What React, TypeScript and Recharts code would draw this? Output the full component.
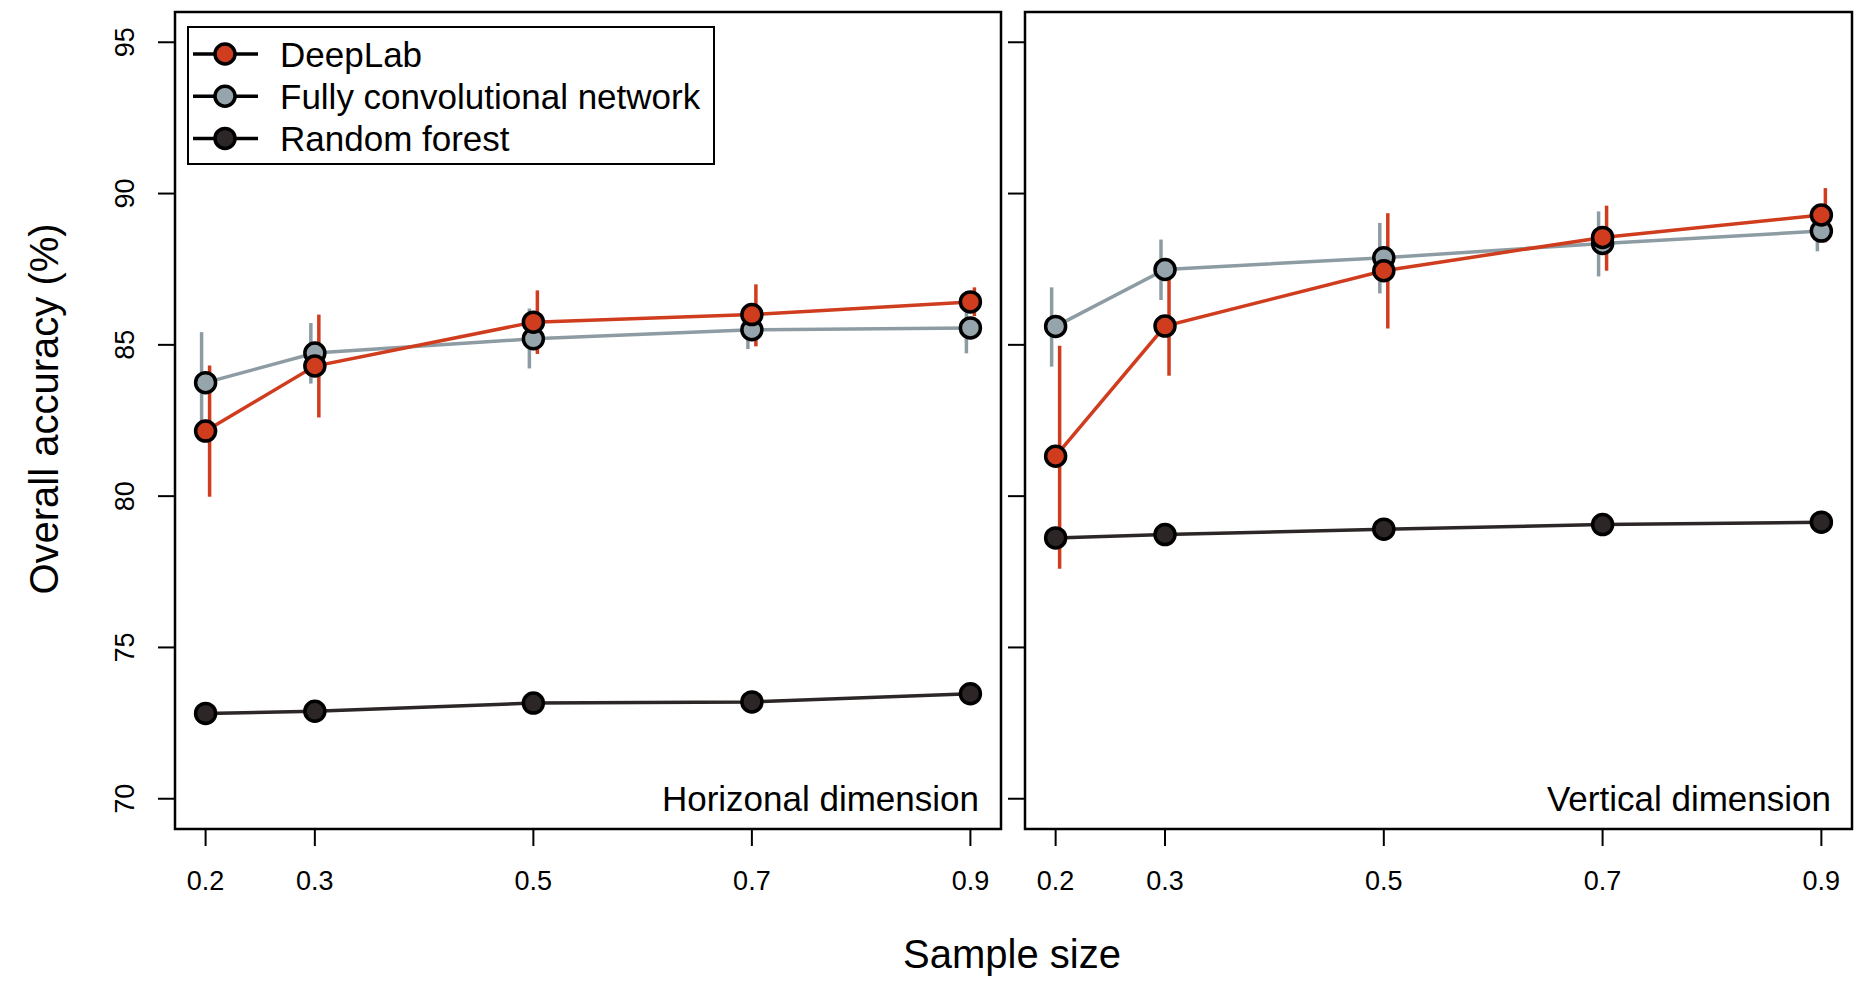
import React from "react";
import {
  LineChart,
  Line,
  XAxis,
  YAxis,
  ErrorBar,
  Legend,
  ReferenceArea,
} from "recharts";

const FONT = "'Liberation Sans', Arial, sans-serif";

// sample sizes on the x axis
const sampleSizes = [0.2, 0.3, 0.5, 0.7, 0.9];
const xTicks = [0.2, 0.3, 0.5, 0.7, 0.9];
const yTicks = [70, 75, 80, 85, 90, 95];

// horizontal dimension
const deeplabH = [82.15, 84.3, 85.75, 86.0, 86.42];
const deeplabHLow = [79.98, 82.6, 84.7, 84.95, 85.95];
const deeplabHHigh = [84.32, 86.0, 86.8, 87.0, 86.9];
const fcnH = [83.75, 84.73, 85.2, 85.5, 85.56];
const fcnHLow = [82.1, 83.72, 84.22, 84.86, 84.72];
const fcnHHigh = [85.42, 85.72, 86.2, 86.14, 86.4];
const rfH = [72.82, 72.89, 73.16, 73.2, 73.47];

// vertical dimension
const deeplabV = [81.32, 85.62, 87.45, 88.55, 89.29];
const deeplabVLow = [77.6, 83.98, 85.54, 87.45, 88.39];
const deeplabVHigh = [84.97, 87.25, 89.35, 89.6, 90.18];
const fcnV = [85.61, 87.49, 87.88, 88.35, 88.76];
const fcnVLow = [84.28, 86.48, 86.7, 87.26, 88.09];
const fcnVHigh = [86.9, 88.48, 89.03, 89.41, 89.42];
const rfV = [78.62, 78.73, 78.91, 79.06, 79.14];

const seriesNames = {
  deeplab: "DeepLab",
  fcn: "Fully convolutional network",
  rf: "Random forest",
};

const RED = "#d03c1e";
const GREY = "#96a5ac";
const GREY_LINE = "#8d9ca3";
const DARK = "#2d2626";

const dotFill: Record<string, string> = { deeplab: RED, fcn: GREY, rf: DARK };
const legendOrder = ["deeplab", "fcn", "rf"];

const X_DOMAIN: [number, number] = [0.172, 0.928];
const Y_DOMAIN: [number, number] = [69, 96];

function buildRows(
  dl: number[], dlLow: number[], dlHigh: number[],
  fcn: number[], fcnLow: number[], fcnHigh: number[],
  rf: number[]
) {
  return sampleSizes.map((x, i) => ({
    x,
    deeplab: dl[i],
    deeplabErr: [dl[i] - dlLow[i], dlHigh[i] - dl[i]],
    fcn: fcn[i],
    fcnErr: [fcn[i] - fcnLow[i], fcnHigh[i] - fcn[i]],
    rf: rf[i],
  }));
}

const rowsH = buildRows(deeplabH, deeplabHLow, deeplabHHigh, fcnH, fcnHLow, fcnHHigh, rfH);
const rowsV = buildRows(deeplabV, deeplabVLow, deeplabVHigh, fcnV, fcnVLow, fcnVHigh, rfV);

const YTick = (props: any) => {
  const { x, y, payload } = props;
  return (
    <text
      x={0}
      y={0}
      transform={`translate(${x},${y}) rotate(-90)`}
      textAnchor="middle"
      fontSize={27}
      fill="#000"
      fontFamily={FONT}
    >
      {payload.value}
    </text>
  );
};

const NoTick = () => <g />;

const LegendBox = (props: any) => {
  const payload = props.payload || [];
  const items = legendOrder
    .map((k) => payload.find((p: any) => p.dataKey === k))
    .filter(Boolean);
  return (
    <svg width={528} height={140} style={{ display: "block" }}>
      <rect x={1} y={1} width={526} height={137} fill="#fff" stroke="#000" strokeWidth={2} />
      {items.map((it: any, i: number) => {
        const cy = 28 + i * 42.2;
        return (
          <g key={it.dataKey}>
            <line x1={6} x2={71} y1={cy} y2={cy} stroke="#000" strokeWidth={3.5} />
            <circle cx={38} cy={cy} r={10} fill={dotFill[it.dataKey]} stroke="#000" strokeWidth={3.5} />
            <text x={93} y={cy} dominantBaseline="central" fontSize={35} fill="#000" fontFamily={FONT}>
              {it.value}
            </text>
          </g>
        );
      })}
    </svg>
  );
};

function series() {
  return [
    <Line
      key="rf"
      type="linear"
      dataKey="rf"
      name={seriesNames.rf}
      stroke={DARK}
      strokeWidth={3.5}
      dot={{ r: 10, fill: DARK, stroke: "#000", strokeWidth: 3.5 }}
      activeDot={false}
      isAnimationActive={false}
    />,
    <Line
      key="fcn"
      type="linear"
      dataKey="fcn"
      name={seriesNames.fcn}
      stroke={GREY_LINE}
      strokeWidth={3.5}
      dot={{ r: 10, fill: GREY, stroke: "#000", strokeWidth: 3.5 }}
      activeDot={false}
      isAnimationActive={false}
    >
      <ErrorBar
        dataKey="fcnErr"
        direction="y"
        width={0}
        stroke={GREY_LINE}
        strokeWidth={3.5}
        transform="translate(-4,0)"
        isAnimationActive={false}
      />
    </Line>,
    <Line
      key="deeplab"
      type="linear"
      dataKey="deeplab"
      name={seriesNames.deeplab}
      stroke={RED}
      strokeWidth={3.5}
      dot={{ r: 10, fill: RED, stroke: "#000", strokeWidth: 3.5 }}
      activeDot={false}
      isAnimationActive={false}
    >
      <ErrorBar
        dataKey="deeplabErr"
        direction="y"
        width={0}
        stroke={RED}
        strokeWidth={3.5}
        transform="translate(4,0)"
        isAnimationActive={false}
      />
    </Line>,
  ];
}

function xAxis() {
  return (
    <XAxis
      type="number"
      dataKey="x"
      domain={X_DOMAIN}
      ticks={xTicks}
      allowDataOverflow
      height={60}
      tickSize={17}
      tickMargin={25}
      axisLine={false}
      tickLine={{ stroke: "#000", strokeWidth: 2 }}
      tick={{ fontSize: 27, fill: "#000", fontFamily: FONT }}
    />
  );
}

function frame() {
  return (
    <ReferenceArea
      x1={X_DOMAIN[0]}
      x2={X_DOMAIN[1]}
      y1={Y_DOMAIN[0]}
      y2={Y_DOMAIN[1]}
      fill="none"
      fillOpacity={0}
      stroke="#000"
      strokeWidth={2.5}
      ifOverflow="visible"
    />
  );
}

export default function App() {
  return (
    <div
      style={{
        position: "absolute",
        left: 0,
        top: 0,
        width: 1855,
        height: 995,
        background: "#fff",
        fontFamily: FONT,
      }}
    >
      <div style={{ position: "absolute", left: 0, top: 0 }}>
        <LineChart width={1003} height={995} data={rowsH} margin={{ top: 12, right: 2, bottom: 106, left: 115 }}>
          {frame()}
          {xAxis()}
          <YAxis
            type="number"
            domain={Y_DOMAIN}
            ticks={yTicks}
            width={60}
            tickSize={17}
            tickMargin={24}
            axisLine={false}
            tickLine={{ stroke: "#000", strokeWidth: 2 }}
            tick={<YTick />}
          />
          {series()}
          <Legend
            layout="vertical"
            align="center"
            verticalAlign="middle"
            wrapperStyle={{ left: 187, top: 26, width: 528, height: 140 }}
            content={<LegendBox />}
          />
        </LineChart>
      </div>
      <div style={{ position: "absolute", left: 1003, top: 0 }}>
        <LineChart width={852} height={995} data={rowsV} margin={{ top: 12, right: 3, bottom: 106, left: 0 }}>
          {frame()}
          {xAxis()}
          <YAxis
            type="number"
            domain={Y_DOMAIN}
            ticks={yTicks}
            width={22}
            tickSize={17}
            axisLine={false}
            tickLine={{ stroke: "#000", strokeWidth: 2 }}
            tick={<NoTick />}
          />
          {series()}
        </LineChart>
      </div>
      <svg
        width={1855}
        height={995}
        style={{ position: "absolute", left: 0, top: 0, pointerEvents: "none" }}
      >
        <text
          x={0}
          y={0}
          transform="translate(44,409) rotate(-90)"
          textAnchor="middle"
          dominantBaseline="central"
          fontSize={40}
          fill="#000"
          fontFamily={FONT}
        >
          Overall accuracy (%)
        </text>
        <text x={1012} y={954} textAnchor="middle" dominantBaseline="central" fontSize={40} fill="#000" fontFamily={FONT}>
          Sample size
        </text>
        <text x={979} y={798} textAnchor="end" dominantBaseline="central" fontSize={35} fill="#000" fontFamily={FONT}>
          Horizonal dimension
        </text>
        <text x={1831} y={798} textAnchor="end" dominantBaseline="central" fontSize={35} fill="#000" fontFamily={FONT}>
          Vertical dimension
        </text>
      </svg>
    </div>
  );
}
